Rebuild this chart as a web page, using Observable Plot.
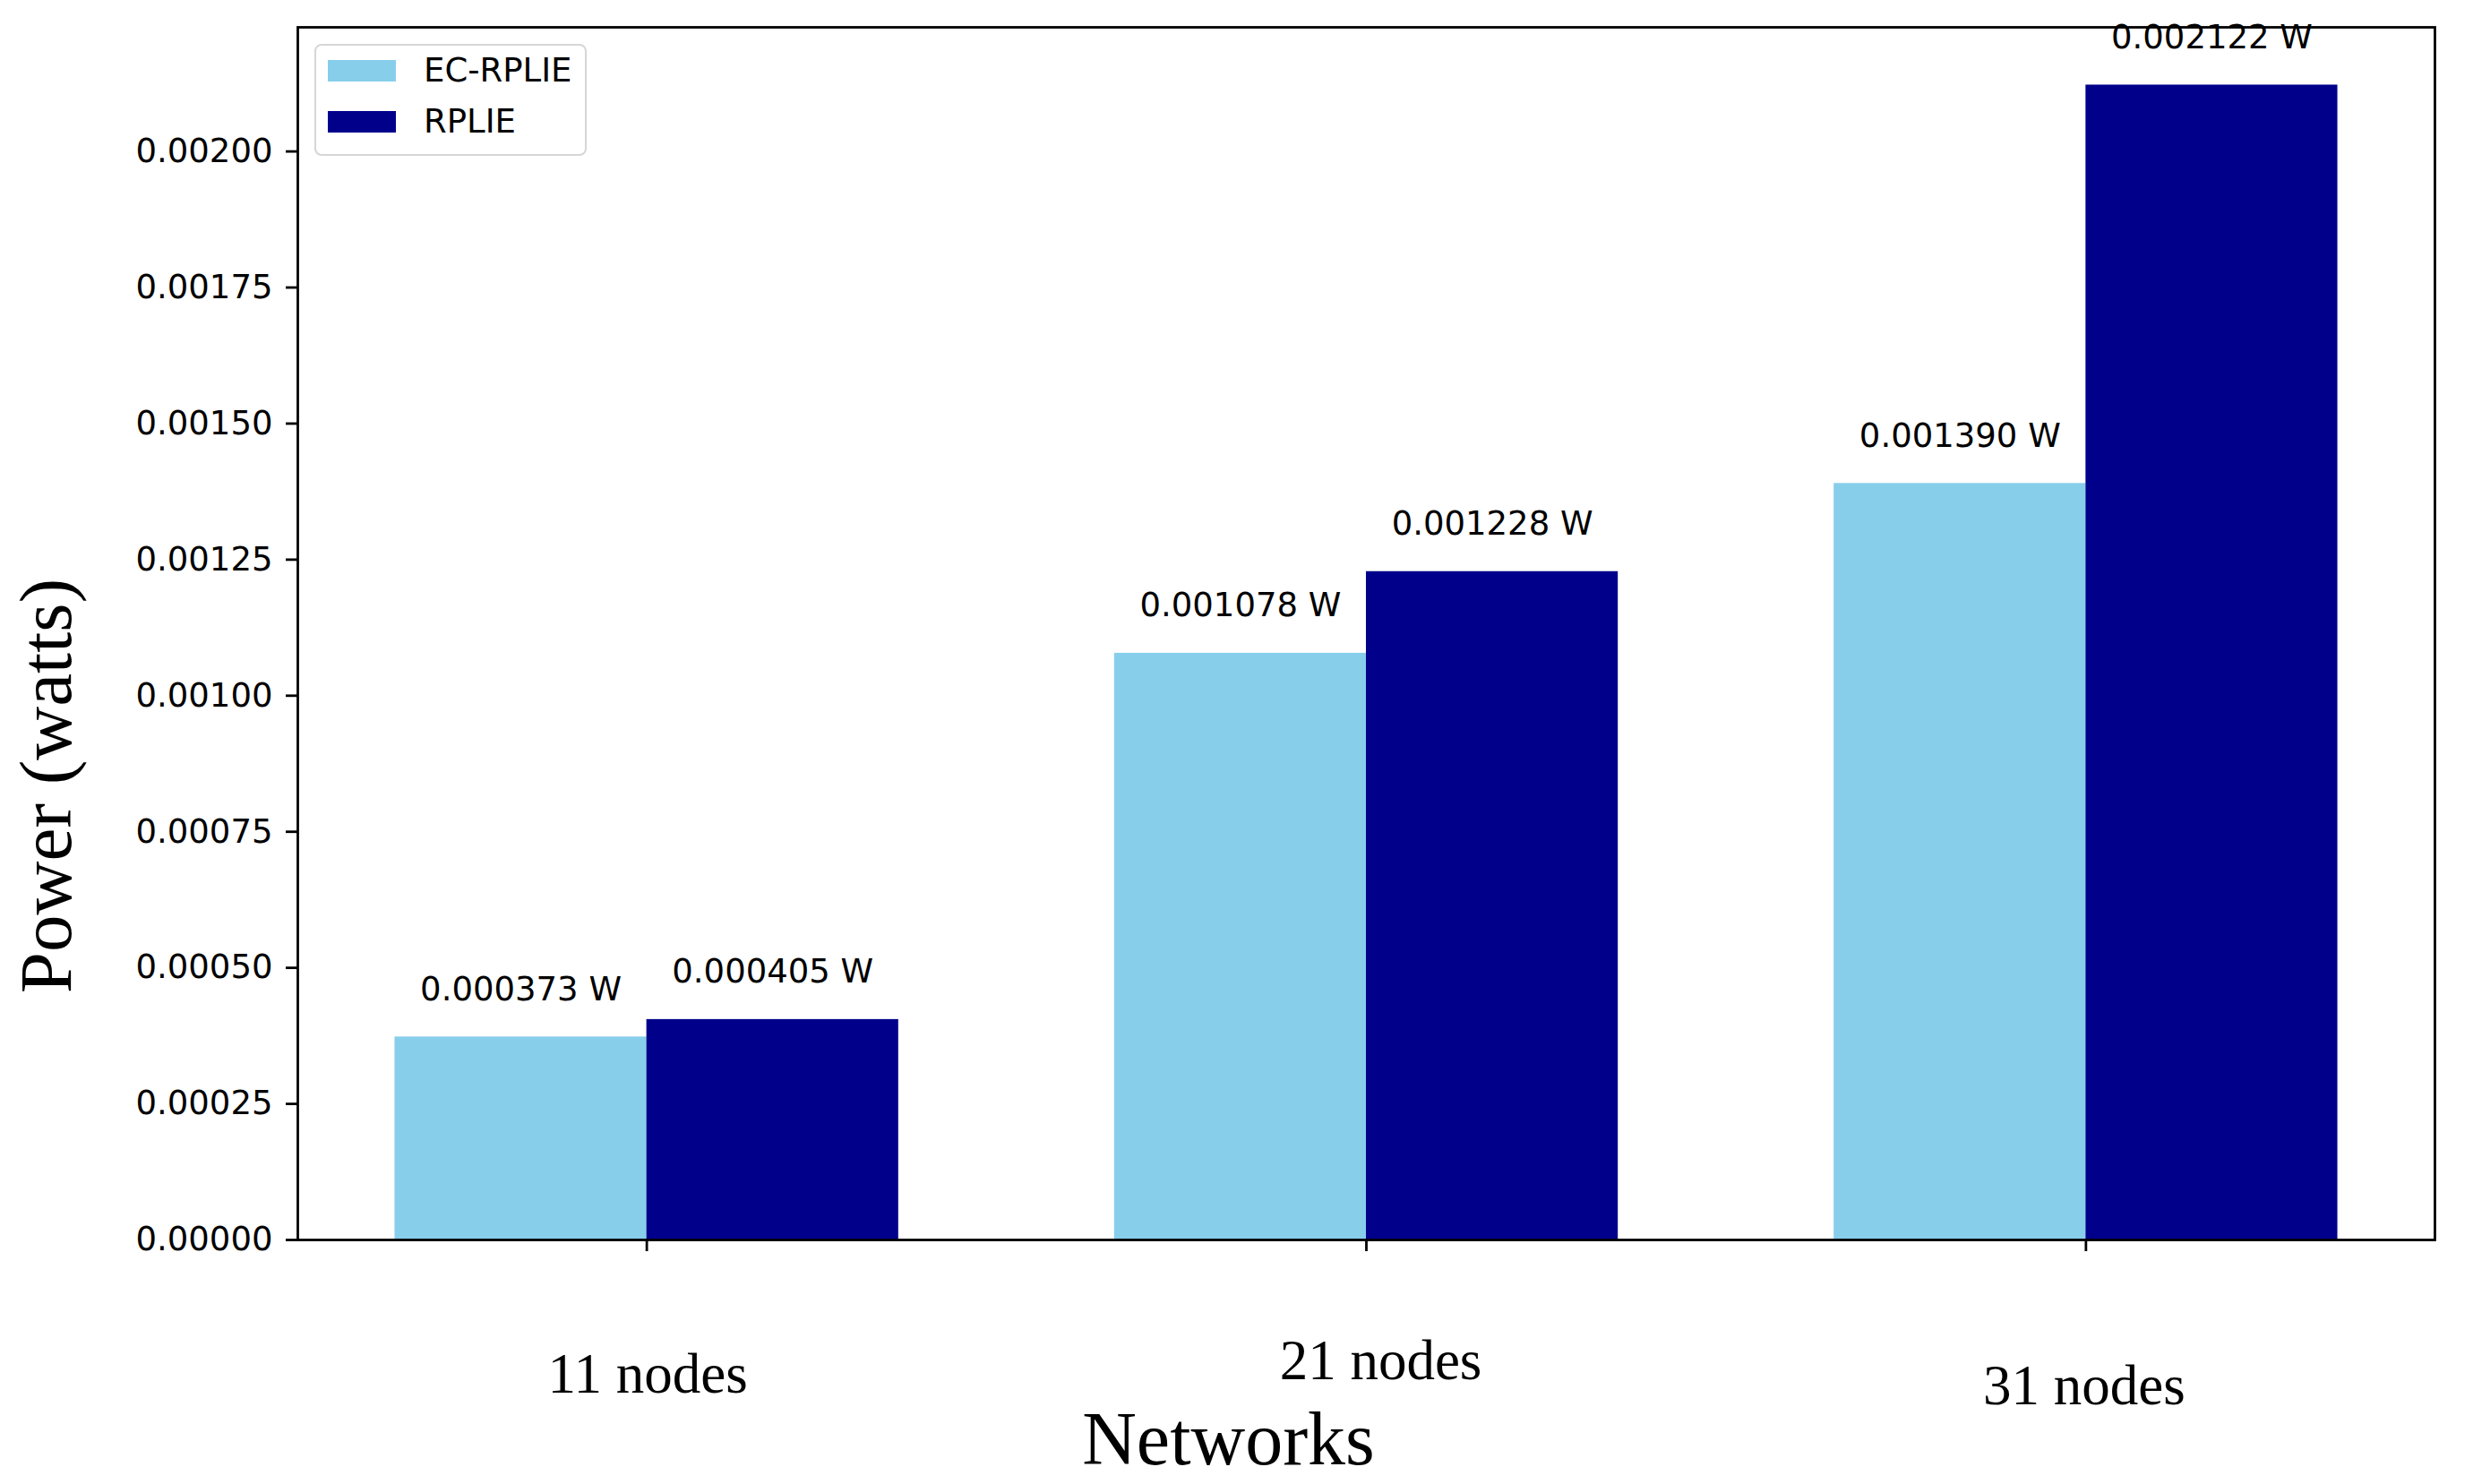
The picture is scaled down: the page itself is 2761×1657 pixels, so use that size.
<!DOCTYPE html>
<html>
<head>
<meta charset="utf-8">
<script src="https://cdn.jsdelivr.net/npm/d3@7"></script>
<script src="https://cdn.jsdelivr.net/npm/@observablehq/plot@0.6"></script>
<style>
  html, body { margin: 0; padding: 0; background: #fff; }
  #wrap { position: relative; width: 2761px; height: 1657px; }
  #legend {
    position: absolute; left: 351px; top: 49px; width: 304px; height: 125px;
    box-sizing: border-box; border: 2px solid #d6d6d6; border-radius: 8px;
    background: rgba(255,255,255,0.8);
    font-family: "DejaVu Sans", sans-serif; font-size: 37px; color: #000;
  }
  .row { position: absolute; left: 0; height: 40px; display: flex; align-items: center; }
  .sw { width: 76px; height: 24px; margin-left: 13px; }
  .lab { margin-left: 31px; line-height: 40px; }
</style>
</head>
<body>
<div id="wrap"></div>
<script>
// ---- data ----
const categories = ["11 nodes", "21 nodes", "31 nodes"];
const seriesNames = ["EC-RPLIE", "RPLIE"];
const ecRplie = [0.000373, 0.001078, 0.001390];
const rplie = [0.000405, 0.001228, 0.002122];
const yTicks = [0, 0.00025, 0.0005, 0.00075, 0.001, 0.00125, 0.0015, 0.00175, 0.002];

// ---- styling / layout constants ----
const colors = ["#87CEEB", "#00008B"];
const barWidth = 0.35;
const groupLabelNudge = [[1, 170], [16, 155], [-2, 183]];

const rows = [];
categories.forEach((c, i) => {
  rows.push({cat: c, i, series: seriesNames[0], value: ecRplie[i], x1: i - barWidth, x2: i});
  rows.push({cat: c, i, series: seriesNames[1], value: rplie[i], x1: i, x2: i + barWidth});
});

const yMax = d3.max(rows, d => d.value) * 1.05;
const xMin = -barWidth - 0.05 * (2 + 2 * barWidth);
const xMax = 2 + barWidth + 0.05 * (2 + 2 * barWidth);

const groupLabelMarks = categories.map((c, i) =>
  Plot.text([{c, i}], {
    x: "i", text: "c", frameAnchor: "bottom",
    dx: groupLabelNudge[i][0], dy: groupLabelNudge[i][1],
    lineAnchor: "bottom", textAnchor: "middle",
    fontFamily: "Liberation Serif", fontSize: 63, fill: "#000"
  })
);

const chart = Plot.plot({
  width: 2761,
  height: 1657,
  marginLeft: 332,
  marginRight: 43,
  marginTop: 30,
  marginBottom: 273,
  style: {background: "white", fontFamily: "DejaVu Sans", overflow: "visible"},
  x: {type: "linear", domain: [xMin, xMax], axis: null},
  y: {domain: [0, yMax], axis: null},
  color: {domain: seriesNames, range: colors},
  marks: [
    Plot.rectY(rows, {x1: "x1", x2: "x2", y1: 0, y2: "value", fill: "series", inset: 0}),
    Plot.frame({stroke: "#000", strokeWidth: 2.8}),
    Plot.axisY({
      ticks: yTicks, tickFormat: d3.format(".5f"),
      tickSize: 13, tickPadding: 15, fontSize: 37, fill: "#000",
      stroke: "#000", strokeWidth: 2.8, label: null
    }),
    Plot.axisX({
      ticks: [0, 1, 2], tickFormat: () => "",
      tickSize: 13, stroke: "#000", strokeWidth: 2.8, label: null
    }),
    Plot.text(rows, {
      x: d => (d.x1 + d.x2) / 2, y: "value",
      text: d => d.value.toFixed(6) + " W",
      dy: -41, lineAnchor: "bottom", textAnchor: "middle",
      fontSize: 37, fontFamily: "DejaVu Sans", fill: "#000"
    }),
    ...groupLabelMarks,
    Plot.text(["Networks"], {
      text: d => d, frameAnchor: "bottom", dx: -154, dy: 250,
      lineAnchor: "bottom", textAnchor: "middle",
      fontFamily: "Liberation Serif", fontSize: 84, fill: "#000"
    }),
    Plot.text(["Power (watts)"], {
      text: d => d, frameAnchor: "left", rotate: -90, dx: -254, dy: 170,
      lineAnchor: "bottom", textAnchor: "middle",
      fontFamily: "Liberation Serif", fontSize: 83, fill: "#000"
    })
  ]
});

const wrap = document.getElementById("wrap");
wrap.appendChild(chart);

// legend
const legend = document.createElement("div");
legend.id = "legend";
const rowTops = [8, 65];
seriesNames.forEach((name, k) => {
  const r = document.createElement("div");
  r.className = "row";
  r.style.top = rowTops[k] + "px";
  const sw = document.createElement("div");
  sw.className = "sw";
  sw.style.background = colors[k];
  const lab = document.createElement("span");
  lab.className = "lab";
  lab.textContent = name;
  r.appendChild(sw);
  r.appendChild(lab);
  legend.appendChild(r);
});
wrap.appendChild(legend);
</script>
</body>
</html>
